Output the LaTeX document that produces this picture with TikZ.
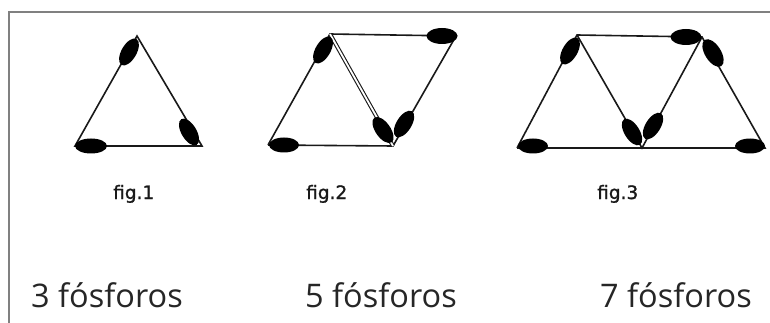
\documentclass[tikz,border=0pt]{standalone}
\usepackage{fontspec}
\setmainfont{Open Sans}
\newfontfamily\figfont[FakeBold=1.2]{DejaVu Sans}
\usetikzlibrary{shapes.geometric}
\tikzset{
  px/.style={x=1pt,y=-1pt},
  match/.style={line width=1.6pt,black!90},
  dmatch/.style={double=white,double distance=1.8pt,line width=1.1pt,black!90},
  head/.style={ellipse,fill=black,inner sep=0pt,minimum width=30pt,minimum height=15pt},
  figlbl/.style={anchor=base west,inner sep=0pt,font=\figfont\fontsize{18.5}{20}\selectfont,text=black!90},
  countlbl/.style={anchor=base west,inner sep=0pt,font=\fontsize{32.5}{36}\selectfont,text=black!85},
  frame/.style={line width=2pt,black!50}
}
\begin{document}
\begin{tikzpicture}[px]
\useasboundingbox (0,0) rectangle (770,323);
\fill[white] (0,0) rectangle (770,323);
% frame
\coordinate (f1) at (8.5,323);
\coordinate (f2) at (8.5,12.5);
\coordinate (f3) at (770,12.5);
\draw[frame] (f1) -- (f2) -- (f3);
% ---------- fig 1
\coordinate (a1) at (137,36);
\coordinate (b1) at (75,146);
\coordinate (c1) at (202,146);
\draw[match] (a1) -- (b1) -- (c1) -- cycle;
\node[head,rotate=60] (h11) at (129,52) {};
\node[head,minimum width=32pt] (h12) at (91,146) {};
\node[head,rotate=-59] (h13) at (189,132) {};
% ---------- fig 2
\coordinate (p2) at (330,34);
\coordinate (q2) at (456,36);
\coordinate (r2) at (268,145);
\coordinate (s2) at (393,146);
\draw[match] (r2) -- (p2) -- (q2) -- (s2) -- (r2);
\draw[dmatch] (p2) -- (s2);
\node[head,rotate=60] (h21) at (323,50) {};
\node[head,minimum width=31pt,minimum height=16pt] (h22) at (442,36) {};
\node[head,minimum width=30pt] (h23) at (284,145) {};
\node[head,rotate=-55] (h24) at (383,130) {};
\node[head,rotate=58] (h25) at (404,124) {};
% ---------- fig 3
\coordinate (a3) at (577,35);
\coordinate (b3) at (702,37);
\coordinate (c3) at (517,148);
\coordinate (d3) at (642,148);
\coordinate (e3) at (765,148);
\draw[match] (c3) -- (a3) -- (b3) -- (e3) -- (c3);
\draw[match] (a3) -- (d3) -- (b3);
\node[head,rotate=60] (h31) at (570,51) {};
\node[head,minimum width=31pt,minimum height=16pt] (h32) at (686,37) {};
\node[head,rotate=-58,minimum width=31pt,minimum height=16pt] (h33) at (713,53) {};
\node[head,minimum width=30pt] (h34) at (533,146) {};
\node[head,rotate=-58] (h35) at (632,132) {};
\node[head,rotate=58] (h36) at (653,126) {};
\node[head,minimum width=30pt] (h37) at (750,146) {};
% ---------- labels
\node[figlbl] (l1) at (113,199) {fig.1};
\node[figlbl] (l2) at (306,199) {fig.2};
\node[figlbl] (l3) at (597,199) {fig.3};
\node[countlbl] (n1) at (31,307) {3 fósforos};
\node[countlbl] (n2) at (305,307) {5 fósforos};
\node[countlbl] (n3) at (600,307) {7 fósforos};
\end{tikzpicture}
\end{document}
